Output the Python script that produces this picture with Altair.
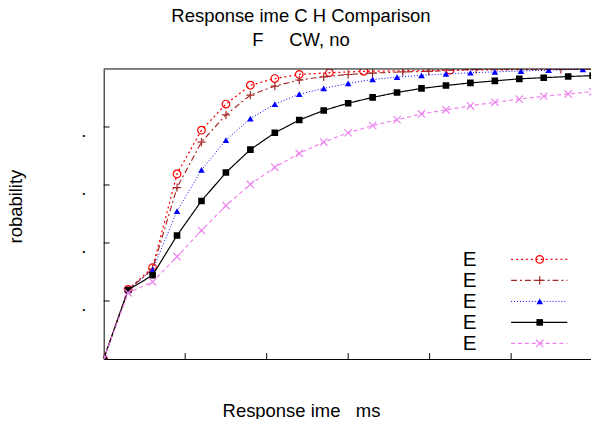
import altair as alt
import pandas as pd

# ---------------- data ----------------
grid_x = [0, 3, 6, 9, 12, 15, 18, 21, 24, 27, 30, 33, 36, 39, 42, 45, 48, 51, 54, 57, 60]

red_x = [0, 3, 6, 9, 12, 15, 18, 21, 24, 27.7, 31.9, 42.5, 63]
red_y = [0, 0.240, 0.315, 0.638, 0.789, 0.879, 0.944, 0.967, 0.981, 0.987, 0.992, 0.996, 1.0]

brown_x = [0, 3, 6, 9, 12, 15, 18, 21, 24, 27, 30, 33, 36.7, 39.9, 45.7, 56.1, 63]
brown_y = [0, 0.238, 0.310, 0.591, 0.748, 0.842, 0.910, 0.941, 0.962, 0.973, 0.981, 0.986,
           0.990, 0.992, 0.999, 0.999, 1.0]

blue_x = [0, 3, 6, 9, 12, 15, 18, 21, 24, 27, 30, 33, 36, 39, 42, 45, 48, 51.2, 54.6, 58.8]
blue_y = [0, 0.238, 0.307, 0.510, 0.652, 0.755, 0.829, 0.879, 0.913, 0.933, 0.950, 0.964,
          0.972, 0.978, 0.983, 0.987, 0.990, 0.993, 0.996, 0.999]

black_x = grid_x
black_y = [0, 0.238, 0.289, 0.426, 0.545, 0.643, 0.722, 0.780, 0.824, 0.857, 0.882, 0.902,
           0.919, 0.933, 0.943, 0.952, 0.959, 0.966, 0.970, 0.974, 0.977]

violet_x = grid_x
violet_y = [0, 0.228, 0.266, 0.353, 0.443, 0.529, 0.602, 0.661, 0.709, 0.748, 0.780, 0.805,
            0.825, 0.845, 0.859, 0.873, 0.885, 0.896, 0.906, 0.914, 0.922]

legend_labels = ["E", "E", "E", "E", "E"]
x_tick_values = [10, 20, 30, 40, 50]
y_tick_values = [0.2, 0.4, 0.6, 0.8]

title_lines = ["Response ime C H Comparison", "F\u00a0\u00a0\u00a0\u00a0\u00a0CW, no"]
x_title = "Response ime\u00a0\u00a0\u00a0ms"
y_title = "robability"

# ---------------- styling ----------------
W, H = 494, 294
FONT = "Liberation Sans"
FS = 18.7
PLUS = "M-1,0L1,0M0,-1L0,1"
XMARK = "M-1,-1L1,1M-1,1L1,-1"

styles = [
    dict(color="#ff0000", dash=[2, 3], shape="circle", filled=False, size=60, w=1.3),
    dict(color="#a52a2a", dash=[6, 3, 2, 3], shape=PLUS, filled=False, size=70, w=1.2),
    dict(color="#0000ff", dash=[1, 2], shape="triangle-up", filled=True, size=45, w=1),
    dict(color="#000000", dash=[1, 0], shape="square", filled=True, size=45, w=1.2),
    dict(color="#ee82ee", dash=[4, 3], shape=XMARK, filled=False, size=55, w=1.2),
]
series = [(red_x, red_y), (brown_x, brown_y), (blue_x, blue_y), (black_x, black_y), (violet_x, violet_y)]

xscale = alt.Scale(domain=[0, 59.8], nice=False, zero=False)
yscale = alt.Scale(domain=[0, 1], nice=False)

xaxis = alt.Axis(values=x_tick_values, labels=False, ticks=False, grid=False, domain=True,
                 domainColor="black", domainWidth=1, title=x_title, titleFont=FONT,
                 titleFontSize=FS, titleFontWeight="normal", titleColor="black",
                 titleX=200, titleY=58, titleAlign="center", titleBaseline="alphabetic")
yaxis = alt.Axis(values=y_tick_values, labelExpr="'.'", ticks=False, tickSize=0, grid=False,
                 domain=True, domainColor="black", domainWidth=1, labelFont=FONT,
                 labelFontSize=FS, labelColor="black", labelPadding=18, labelOffset=4,
                 title=y_title, titleFont=FONT, titleFontSize=FS, titleFontWeight="normal",
                 titleColor="black", titleAngle=270, titleX=-83, titleY=139,
                 titleAlign="center", titleBaseline="alphabetic")

X = alt.X("x:Q", scale=xscale, axis=xaxis)
Y = alt.Y("y:Q", scale=yscale, axis=yaxis)

layers = []
for (xs, ys), st in zip(series, styles):
    df = pd.DataFrame({"x": xs, "y": ys})
    layers.append(alt.Chart(df).mark_line(color=st["color"], strokeDash=st["dash"],
                                          strokeWidth=st["w"], clip=True).encode(x=X, y=Y))
    layers.append(alt.Chart(df).mark_point(shape=st["shape"], filled=st["filled"],
                                           size=st["size"], color=st["color"], opacity=1,
                                           strokeWidth=1.2, clip=True).encode(x=X, y=Y))

# inward ticks
xt = pd.DataFrame({"x": x_tick_values})
layers.append(alt.Chart(xt).mark_rule(color="black", strokeWidth=1).encode(
    x=X, y=alt.value(H), y2=alt.value(H - 6)))
yt = pd.DataFrame({"y": y_tick_values})
layers.append(alt.Chart(yt).mark_rule(color="black", strokeWidth=1).encode(
    y=Y, x=alt.value(0), x2=alt.value(6)))
# top border
layers.append(alt.Chart(pd.DataFrame({"a": [0]})).mark_rule(color="black", strokeWidth=1).encode(
    x=alt.value(0), x2=alt.value(W), y=alt.value(0)))

# legend (key)
row0, rstep = 193, 21.3
for i, (lab, st) in enumerate(zip(legend_labels, styles)):
    ry = row0 + i * rstep
    ldf = pd.DataFrame({"label": [lab]})
    layers.append(alt.Chart(ldf).mark_text(align="left", baseline="middle", font=FONT,
                                           fontSize=21, color="black").encode(
        text="label:N", x=alt.value(364), y=alt.value(ry + 1)))
    layers.append(alt.Chart(ldf).mark_rule(color=st["color"], strokeDash=st["dash"],
                                           strokeWidth=st["w"]).encode(
        x=alt.value(413), x2=alt.value(470), y=alt.value(ry)))
    layers.append(alt.Chart(ldf).mark_point(shape=st["shape"], filled=st["filled"],
                                            size=st["size"], color=st["color"], opacity=1,
                                            strokeWidth=1.2).encode(
        x=alt.value(442), y=alt.value(ry)))

chart = alt.layer(*layers).properties(
    width=W, height=H,
    title=alt.TitleParams(text=title_lines, font=FONT, fontSize=FS, fontWeight="normal",
                          color="black", anchor="middle", dx=-47, offset=4.5,
                          baseline="alphabetic", lineHeight=23.6),
    autosize=alt.AutoSizeParams(type="none"),
    padding={"left": 97, "top": 59, "right": 0, "bottom": 58},
    background="white",
).configure_view(stroke=None)

chart.save("out.html", embed_options={"renderer": "svg", "actions": False})
